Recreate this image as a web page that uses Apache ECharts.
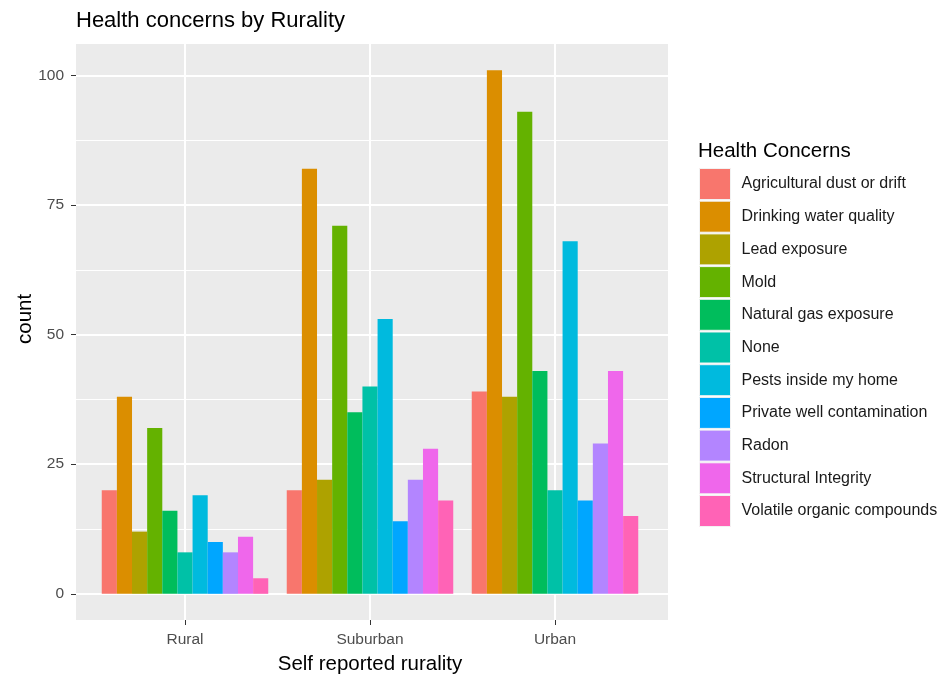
<!DOCTYPE html>
<html>
<head>
<meta charset="utf-8">
<script src="https://cdn.jsdelivr.net/npm/echarts@6/dist/echarts.min.js"></script>
<style>html,body{margin:0;padding:0;background:#fff}#c{width:946px;height:674px}</style>
</head>
<body>
<div id="c"></div>
<script>
const categories = ['Rural', 'Suburban', 'Urban'];
const concerns = ['Agricultural dust or drift', 'Drinking water quality', 'Lead exposure', 'Mold',
  'Natural gas exposure', 'None', 'Pests inside my home', 'Private well contamination',
  'Radon', 'Structural Integrity', 'Volatile organic compounds'];
const ruralCounts    = [20, 38, 12, 32, 16, 8, 19, 10, 8, 11, 3];
const suburbanCounts = [20, 82, 22, 71, 35, 40, 53, 14, 22, 28, 18];
const urbanCounts    = [39, 101, 38, 93, 43, 20, 68, 18, 29, 43, 15];
const colors = ['#F8766D', '#DB8E00', '#AEA200', '#64B200', '#00BD5C', '#00C1A7',
  '#00BADE', '#00A6FF', '#B385FF', '#EF67EB', '#FF63B6'];
const yTicks = [0, 25, 50, 75, 100];

const FONT = 'Liberation Sans, Arial, sans-serif';
const series = concerns.map((name, i) => ({
  name: name,
  type: 'bar',
  xAxisIndex: 0,
  yAxisIndex: 0,
  data: [ruralCounts[i], suburbanCounts[i], urbanCounts[i]],
  barWidth: 185 * 0.9 / 11,
  barGap: '0%',
  clip: false,
  itemStyle: { color: colors[i] },
  emphasis: { disabled: true }
}));

const chart = echarts.init(document.getElementById('c'), null, { renderer: 'canvas' });
chart.setOption({
  animation: false,
  backgroundColor: '#ffffff',
  title: [
    { text: 'Health concerns by Rurality', left: 76, top: 10, padding: 0,
      textStyle: { fontFamily: FONT, fontSize: 22, fontWeight: 'normal', color: '#000' } },
    { text: 'Health Concerns', left: 698, top: 141, padding: 0,
      textStyle: { fontFamily: FONT, fontSize: 20.5, fontWeight: 'normal', color: '#000' } }
  ],
  legend: {
    orient: 'vertical',
    left: 699, top: 168, padding: 0,
    itemWidth: 31, itemHeight: 31, itemGap: 0.7,
    icon: 'rect',
    selectedMode: false,
    itemStyle: { borderColor: '#f2f2f2', borderWidth: 1 },
    textStyle: { fontFamily: FONT, fontSize: 16, color: '#1A1A1A', padding: [0, 0, 0, 6] },
    data: concerns
  },
  grid: [
    { left: 185, right: 391, top: 44, bottom: 54, containLabel: false, outerBoundsMode: 'none' },
    { left: 76, right: 278, top: 44, bottom: 80.2, containLabel: false, outerBoundsMode: 'none' },
    { left: 76, right: 278, top: 44, bottom: 54, containLabel: false, outerBoundsMode: 'none', show: true,
      backgroundColor: '#EBEBEB', borderWidth: 0, z: -1 }
  ],
  xAxis: [
    { type: 'category', gridIndex: 0, data: categories, boundaryGap: false,
      axisLine: { show: false, onZero: false },
      axisTick: { show: true, length: 5, lineStyle: { color: '#333333', width: 1 } },
      axisLabel: { show: true, margin: 12, fontFamily: FONT, fontSize: 15.5, color: '#4D4D4D' },
      splitLine: { show: true, lineStyle: { color: '#ffffff', width: 2 } },
      name: 'Self reported rurality', nameLocation: 'middle', nameGap: 34,
      nameMoveOverlap: false,
      nameTextStyle: { fontFamily: FONT, fontSize: 20.5, color: '#000' },
      z: 2
    },
    { type: 'value', gridIndex: 1, min: 0, max: 1, show: false },
    { type: 'value', gridIndex: 2, min: 0, max: 1, show: false }
  ],
  yAxis: [
    { type: 'value', gridIndex: 0, min: -5.05, max: 106.05, show: false,
      splitLine: { show: false } },
    { type: 'value', gridIndex: 1, min: 0, max: 106.05, interval: 25,
      axisLine: { show: false },
      axisTick: { show: true, length: 5, lineStyle: { color: '#333333', width: 1 } },
      axisLabel: { show: true, margin: 12, fontFamily: FONT, fontSize: 15.5, color: '#4D4D4D',
        showMaxLabel: false,
        formatter: v => (yTicks.indexOf(v) >= 0 ? String(v) : '') },
      splitLine: { show: true, showMaxLine: false, lineStyle: { color: '#ffffff', width: 2 } },
      minorTick: { show: false, splitNumber: 2 },
      minorSplitLine: { show: true, lineStyle: { color: '#ffffff', width: 1 } },
      name: 'count', nameLocation: 'middle', nameGap: 40, nameRotate: 90,
      nameMoveOverlap: false,
      nameTextStyle: { fontFamily: FONT, fontSize: 20.5, color: '#000' }
    },
    { type: 'value', gridIndex: 2, min: 0, max: 1, show: false }
  ],
  series: series
});
</script>
</body>
</html>
